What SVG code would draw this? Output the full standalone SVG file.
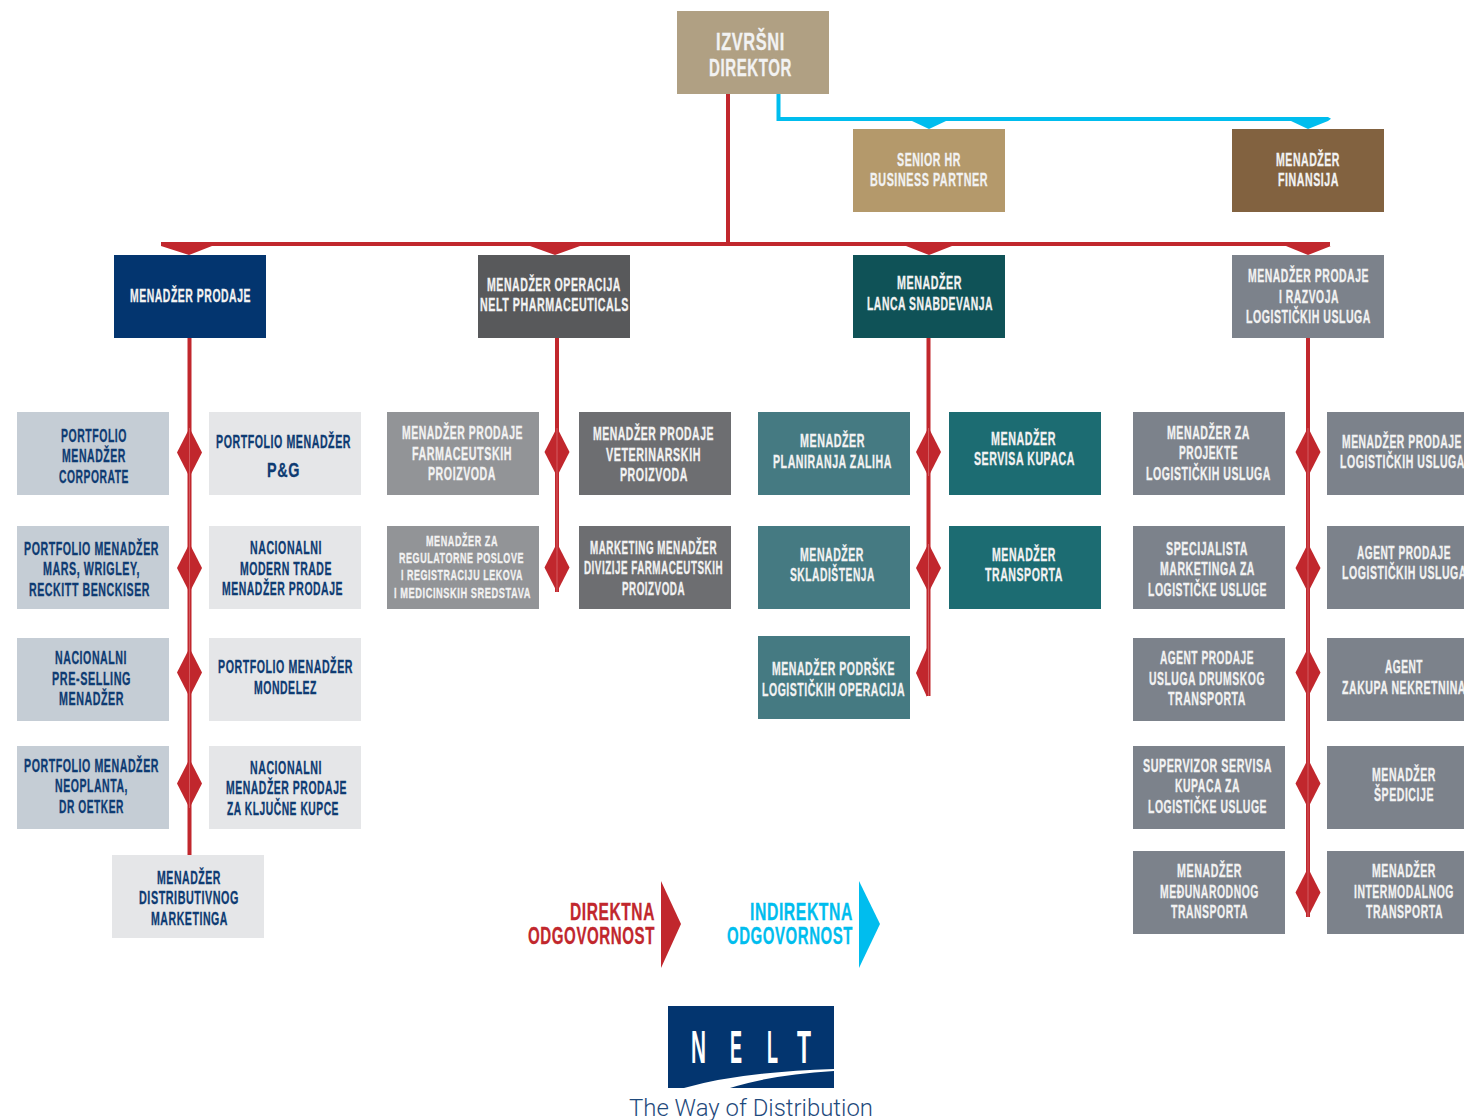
<svg xmlns="http://www.w3.org/2000/svg" width="1464" height="1120" viewBox="0 0 1464 1120">
<defs><style>
text{font-family:"Liberation Sans Narrow","Liberation Sans",Arial,sans-serif;font-weight:700;font-size:17.5px;fill:#f2f2f2;stroke:#f2f2f2;stroke-width:.3;letter-spacing:.9px}
.d text{fill:#0e3b72;stroke:#0e3b72}
.s text{font-size:14.5px}
.root text{font-size:23.5px}
.red{fill:#c1272d}.blue{fill:#00bdee}
.st{stroke:#dc7479;stroke-width:.7;fill:none}
.gold{fill:#b0a083}.hr{fill:#b4996b}.fin{fill:#826240}.navy{fill:#03356f}.ch{fill:#58595b}.tl{fill:#0f5257}.sl{fill:#7c828b}
.lb{fill:#c5cdd5}.lg{fill:#e5e6e8}.g1{fill:#929497}.g2{fill:#6d6e71}.t1{fill:#457a82}.t2{fill:#1c6c72}
.lr{font-size:24px;fill:#c1272d;stroke:#c1272d}.li{font-size:24px;fill:#00bdee;stroke:#00bdee}
.nl{font-size:47px;font-weight:700;fill:#fff;stroke:none;letter-spacing:0}
</style>
<polygon id="dia" points="0,-24.5 12.5,0 0,24.5 -12.5,0" class="red"/>
</defs>
<rect width="1464" height="1120" fill="#fff"/>
<g id="connectors">
<rect class="red" x="726" y="94" width="4" height="150"/>
<rect class="red" x="161" y="242" width="1169" height="4"/>
<polygon class="red" points="161,246 212,246 189,255"/>
<polygon class="red" points="530,246 580,246 555,255"/>
<polygon class="red" points="906,246 952,246 929,255"/>
<polygon class="red" points="1286,246 1331,246 1308,255"/>
<path class="blue" d="M776.500 94H780.500V117H1328L1331 118.800L1328 121H776.500Z"/>
<polygon class="blue" points="912,121 946,121 929,129"/>
<polygon class="blue" points="1291,121 1328,121 1308,129"/>
<rect class="red" x="187.500" y="338" width="4" height="517"/>
<rect class="red" x="555" y="338" width="4" height="254"/>
<rect class="red" x="926.500" y="338" width="4" height="358"/>
<rect class="red" x="1306" y="338" width="4" height="579"/>
<use href="#dia" x="189.500" y="452.500"/><use href="#dia" x="189.500" y="568"/><use href="#dia" x="189.500" y="672.500"/><use href="#dia" x="189.500" y="783.500"/>
<use href="#dia" x="557" y="452"/><use href="#dia" x="557" y="567.500"/>
<use href="#dia" x="928.500" y="452"/><use href="#dia" x="928.500" y="568"/>
<polygon class="red" points="927,648 916,673 927,697"/>
<use href="#dia" x="1308" y="452"/><use href="#dia" x="1308" y="568"/><use href="#dia" x="1308" y="672.500"/><use href="#dia" x="1308" y="783.500"/><use href="#dia" x="1308" y="892.500"/>
<path class="st" d="M189.500 428V808M557 428V592M928.500 544V696M928.500 428V476M1308 428V917"/>
</g>
<g id="n-root" class="root"><rect class="gold" x="677" y="11" width="152" height="83"/><text x="716" y="50" textLength="69" lengthAdjust="spacingAndGlyphs">IZVRŠNI</text><text x="709" y="76" textLength="83" lengthAdjust="spacingAndGlyphs">DIREKTOR</text></g>
<g id="n-hr"><rect class="hr" x="853" y="129" width="152" height="83"/><text x="897" y="166" textLength="64" lengthAdjust="spacingAndGlyphs">SENIOR HR</text><text x="870" y="186" textLength="118" lengthAdjust="spacingAndGlyphs">BUSINESS PARTNER</text></g>
<g id="n-fin"><rect class="fin" x="1232" y="129" width="152" height="83"/><text x="1276" y="166" textLength="64" lengthAdjust="spacingAndGlyphs">MENADŽER</text><text x="1278" y="186" textLength="61" lengthAdjust="spacingAndGlyphs">FINANSIJA</text></g>
<g id="n-prodaja"><rect class="navy" x="114" y="255" width="152" height="83"/><text x="130" y="302" textLength="121" lengthAdjust="spacingAndGlyphs">MENADŽER PRODAJE</text></g>
<g id="n-operacija"><rect class="ch" x="478" y="255" width="152" height="83"/><text x="487" y="291" textLength="134" lengthAdjust="spacingAndGlyphs">MENADŽER OPERACIJA</text><text x="480" y="311" textLength="149" lengthAdjust="spacingAndGlyphs">NELT PHARMACEUTICALS</text></g>
<g id="n-lanac"><rect class="tl" x="853" y="255" width="152" height="83"/><text x="897" y="289" textLength="65" lengthAdjust="spacingAndGlyphs">MENADŽER</text><text x="867" y="310" textLength="126" lengthAdjust="spacingAndGlyphs">LANCA SNABDEVANJA</text></g>
<g id="n-razvoj"><rect class="sl" x="1232" y="255" width="152" height="83"/><text x="1248" y="282" textLength="121" lengthAdjust="spacingAndGlyphs">MENADŽER PRODAJE</text><text x="1279" y="303" textLength="60" lengthAdjust="spacingAndGlyphs">I RAZVOJA</text><text x="1246" y="323" textLength="125" lengthAdjust="spacingAndGlyphs">LOGISTIČKIH USLUGA</text></g>

<g id="n-a1" class="d"><rect class="lb" x="17" y="412" width="152" height="83"/><text x="61" y="442" textLength="66" lengthAdjust="spacingAndGlyphs">PORTFOLIO</text><text x="62" y="462" textLength="64" lengthAdjust="spacingAndGlyphs">MENADŽER</text><text x="59" y="483" textLength="70" lengthAdjust="spacingAndGlyphs">CORPORATE</text></g>
<g id="n-a2" class="d"><rect class="lg" x="209" y="412" width="152" height="83"/><text x="216" y="448" textLength="135" lengthAdjust="spacingAndGlyphs">PORTFOLIO MENADŽER</text><text x="267" y="477" textLength="33" lengthAdjust="spacingAndGlyphs" style="font-size:21px">P&amp;G</text></g>
<g id="n-a3" class="d"><rect class="lb" x="17" y="526" width="152" height="83"/><text x="24" y="555" textLength="135" lengthAdjust="spacingAndGlyphs">PORTFOLIO MENADŽER</text><text x="43" y="575" textLength="97" lengthAdjust="spacingAndGlyphs">MARS, WRIGLEY,</text><text x="29" y="596" textLength="121" lengthAdjust="spacingAndGlyphs">RECKITT BENCKISER</text></g>
<g id="n-a4" class="d"><rect class="lg" x="209" y="526" width="152" height="83"/><text x="250" y="554" textLength="72" lengthAdjust="spacingAndGlyphs">NACIONALNI</text><text x="240" y="575" textLength="92" lengthAdjust="spacingAndGlyphs">MODERN TRADE</text><text x="222" y="595" textLength="121" lengthAdjust="spacingAndGlyphs">MENADŽER PRODAJE</text></g>
<g id="n-a5" class="d"><rect class="lb" x="17" y="638" width="152" height="83"/><text x="55" y="664" textLength="72" lengthAdjust="spacingAndGlyphs">NACIONALNI</text><text x="52" y="685" textLength="79" lengthAdjust="spacingAndGlyphs">PRE-SELLING</text><text x="59" y="705" textLength="65" lengthAdjust="spacingAndGlyphs">MENADŽER</text></g>
<g id="n-a6" class="d"><rect class="lg" x="209" y="638" width="152" height="83"/><text x="218" y="673" textLength="135" lengthAdjust="spacingAndGlyphs">PORTFOLIO MENADŽER</text><text x="254" y="694" textLength="63" lengthAdjust="spacingAndGlyphs">MONDELEZ</text></g>
<g id="n-a7" class="d"><rect class="lb" x="17" y="746" width="152" height="83"/><text x="24" y="772" textLength="135" lengthAdjust="spacingAndGlyphs">PORTFOLIO MENADŽER</text><text x="55" y="792" textLength="73" lengthAdjust="spacingAndGlyphs">NEOPLANTA,</text><text x="59" y="813" textLength="65" lengthAdjust="spacingAndGlyphs">DR OETKER</text></g>
<g id="n-a8" class="d"><rect class="lg" x="209" y="746" width="152" height="83"/><text x="250" y="774" textLength="72" lengthAdjust="spacingAndGlyphs">NACIONALNI</text><text x="226" y="794" textLength="121" lengthAdjust="spacingAndGlyphs">MENADŽER PRODAJE</text><text x="227" y="815" textLength="112" lengthAdjust="spacingAndGlyphs">ZA KLJUČNE KUPCE</text></g>
<g id="n-a9" class="d"><rect class="lg" x="112" y="855" width="152" height="83"/><text x="157" y="884" textLength="64" lengthAdjust="spacingAndGlyphs">MENADŽER</text><text x="139" y="904" textLength="100" lengthAdjust="spacingAndGlyphs">DISTRIBUTIVNOG</text><text x="151" y="925" textLength="77" lengthAdjust="spacingAndGlyphs">MARKETINGA</text></g>

<g id="n-b1"><rect class="g1" x="387" y="412" width="152" height="83"/><text x="402" y="439" textLength="121" lengthAdjust="spacingAndGlyphs">MENADŽER PRODAJE</text><text x="412" y="460" textLength="100" lengthAdjust="spacingAndGlyphs">FARMACEUTSKIH</text><text x="428" y="480" textLength="68" lengthAdjust="spacingAndGlyphs">PROIZVODA</text></g>
<g id="n-b2"><rect class="g2" x="579" y="412" width="152" height="83"/><text x="593" y="440" textLength="121" lengthAdjust="spacingAndGlyphs">MENADŽER PRODAJE</text><text x="606" y="461" textLength="95" lengthAdjust="spacingAndGlyphs">VETERINARSKIH</text><text x="620" y="481" textLength="68" lengthAdjust="spacingAndGlyphs">PROIZVODA</text></g>
<g id="n-b3" class="s"><rect class="g1" x="387" y="526" width="152" height="83"/><text x="426" y="546" textLength="72" lengthAdjust="spacingAndGlyphs">MENADŽER ZA</text><text x="399" y="563" textLength="125" lengthAdjust="spacingAndGlyphs">REGULATORNE POSLOVE</text><text x="401" y="580" textLength="122" lengthAdjust="spacingAndGlyphs">I REGISTRACIJU LEKOVA</text><text x="394" y="598" textLength="137" lengthAdjust="spacingAndGlyphs">I MEDICINSKIH SREDSTAVA</text></g>
<g id="n-b4"><rect class="g2" x="579" y="526" width="152" height="83"/><text x="590" y="554" textLength="127" lengthAdjust="spacingAndGlyphs">MARKETING MENADŽER</text><text x="584" y="574" textLength="139" lengthAdjust="spacingAndGlyphs">DIVIZIJE FARMACEUTSKIH</text><text x="622" y="595" textLength="63" lengthAdjust="spacingAndGlyphs">PROIZVODA</text></g>

<g id="n-c1"><rect class="t1" x="758" y="412" width="152" height="83"/><text x="800" y="447" textLength="65" lengthAdjust="spacingAndGlyphs">MENADŽER</text><text x="773" y="468" textLength="119" lengthAdjust="spacingAndGlyphs">PLANIRANJA ZALIHA</text></g>
<g id="n-c2"><rect class="t2" x="949" y="412" width="152" height="83"/><text x="991" y="445" textLength="65" lengthAdjust="spacingAndGlyphs">MENADŽER</text><text x="974" y="465" textLength="101" lengthAdjust="spacingAndGlyphs">SERVISA KUPACA</text></g>
<g id="n-c3"><rect class="t1" x="758" y="526" width="152" height="83"/><text x="800" y="561" textLength="64" lengthAdjust="spacingAndGlyphs">MENADŽER</text><text x="790" y="581" textLength="85" lengthAdjust="spacingAndGlyphs">SKLADIŠTENJA</text></g>
<g id="n-c4"><rect class="t2" x="949" y="526" width="152" height="83"/><text x="992" y="561" textLength="64" lengthAdjust="spacingAndGlyphs">MENADŽER</text><text x="985" y="581" textLength="78" lengthAdjust="spacingAndGlyphs">TRANSPORTA</text></g>
<g id="n-c5"><rect class="t1" x="758" y="636" width="152" height="83"/><text x="772" y="675" textLength="123" lengthAdjust="spacingAndGlyphs">MENADŽER PODRŠKE</text><text x="762" y="696" textLength="143" lengthAdjust="spacingAndGlyphs">LOGISTIČKIH OPERACIJA</text></g>

<g id="n-d1"><rect class="sl" x="1133" y="412" width="152" height="83"/><text x="1167" y="439" textLength="83" lengthAdjust="spacingAndGlyphs">MENADŽER ZA</text><text x="1179" y="459" textLength="59" lengthAdjust="spacingAndGlyphs">PROJEKTE</text><text x="1146" y="480" textLength="125" lengthAdjust="spacingAndGlyphs">LOGISTIČKIH USLUGA</text></g>
<g id="n-d2"><rect class="sl" x="1327" y="412" width="137" height="83"/><text x="1342" y="448" textLength="120" lengthAdjust="spacingAndGlyphs">MENADŽER PRODAJE</text><text x="1340" y="468" textLength="125" lengthAdjust="spacingAndGlyphs">LOGISTIČKIH USLUGA</text></g>
<g id="n-d3"><rect class="sl" x="1133" y="526" width="152" height="83"/><text x="1166" y="555" textLength="82" lengthAdjust="spacingAndGlyphs">SPECIJALISTA</text><text x="1160" y="575" textLength="95" lengthAdjust="spacingAndGlyphs">MARKETINGA ZA</text><text x="1148" y="596" textLength="119" lengthAdjust="spacingAndGlyphs">LOGISTIČKE USLUGE</text></g>
<g id="n-d4"><rect class="sl" x="1327" y="526" width="137" height="83"/><text x="1357" y="559" textLength="94" lengthAdjust="spacingAndGlyphs">AGENT PRODAJE</text><text x="1342" y="579" textLength="125" lengthAdjust="spacingAndGlyphs">LOGISTIČKIH USLUGA</text></g>
<g id="n-d5"><rect class="sl" x="1133" y="638" width="152" height="83"/><text x="1160" y="664" textLength="94" lengthAdjust="spacingAndGlyphs">AGENT PRODAJE</text><text x="1149" y="685" textLength="116" lengthAdjust="spacingAndGlyphs">USLUGA DRUMSKOG</text><text x="1168" y="705" textLength="78" lengthAdjust="spacingAndGlyphs">TRANSPORTA</text></g>
<g id="n-d6"><rect class="sl" x="1327" y="638" width="137" height="83"/><text x="1385" y="673" textLength="38" lengthAdjust="spacingAndGlyphs">AGENT</text><text x="1342" y="694" textLength="124" lengthAdjust="spacingAndGlyphs">ZAKUPA NEKRETNINA</text></g>
<g id="n-d7"><rect class="sl" x="1133" y="746" width="152" height="83"/><text x="1143" y="772" textLength="129" lengthAdjust="spacingAndGlyphs">SUPERVIZOR SERVISA</text><text x="1175" y="792" textLength="65" lengthAdjust="spacingAndGlyphs">KUPACA ZA</text><text x="1148" y="813" textLength="119" lengthAdjust="spacingAndGlyphs">LOGISTIČKE USLUGE</text></g>
<g id="n-d8"><rect class="sl" x="1327" y="746" width="137" height="83"/><text x="1372" y="781" textLength="64" lengthAdjust="spacingAndGlyphs">MENADŽER</text><text x="1374" y="801" textLength="60" lengthAdjust="spacingAndGlyphs">ŠPEDICIJE</text></g>
<g id="n-d9"><rect class="sl" x="1133" y="851" width="152" height="83"/><text x="1177" y="877" textLength="65" lengthAdjust="spacingAndGlyphs">MENADŽER</text><text x="1160" y="898" textLength="99" lengthAdjust="spacingAndGlyphs">MEĐUNARODNOG</text><text x="1171" y="918" textLength="77" lengthAdjust="spacingAndGlyphs">TRANSPORTA</text></g>
<g id="n-d10"><rect class="sl" x="1327" y="851" width="137" height="83"/><text x="1372" y="877" textLength="64" lengthAdjust="spacingAndGlyphs">MENADŽER</text><text x="1354" y="898" textLength="100" lengthAdjust="spacingAndGlyphs">INTERMODALNOG</text><text x="1366" y="918" textLength="77" lengthAdjust="spacingAndGlyphs">TRANSPORTA</text></g>

<g id="legend-direct"><text class="lr" x="570" y="920" textLength="85" lengthAdjust="spacingAndGlyphs">DIREKTNA</text><text class="lr" x="528" y="944" textLength="127" lengthAdjust="spacingAndGlyphs">ODGOVORNOST</text><polygon class="red" points="661,881 681,924 661,968"/></g>
<g id="legend-indirect"><text class="li" x="750" y="920" textLength="103" lengthAdjust="spacingAndGlyphs">INDIREKTNA</text><text class="li" x="727" y="944" textLength="126" lengthAdjust="spacingAndGlyphs">ODGOVORNOST</text><polygon class="blue" points="859,881 880,924 859,968"/></g>

<g id="logo"><rect class="navy" x="668" y="1006" width="166" height="82"/>
<path fill="#fff" d="M684 1088Q740 1072 834 1069V1071Q770 1075 730 1088Z"/>
<text class="nl" y="1063" x="691" textLength="15" lengthAdjust="spacingAndGlyphs">N</text>
<text class="nl" y="1063" x="730" textLength="12" lengthAdjust="spacingAndGlyphs">E</text>
<text class="nl" y="1063" x="767" textLength="11" lengthAdjust="spacingAndGlyphs">L</text>
<text class="nl" y="1063" x="797" textLength="14" lengthAdjust="spacingAndGlyphs">T</text>
<text x="629" y="1116" textLength="244" lengthAdjust="spacingAndGlyphs" style="font-family:Roboto,'Liberation Sans',sans-serif;font-weight:300;font-size:24px;fill:#1f4a7c;stroke:none;letter-spacing:0">The Way of Distribution</text></g>
</svg>
